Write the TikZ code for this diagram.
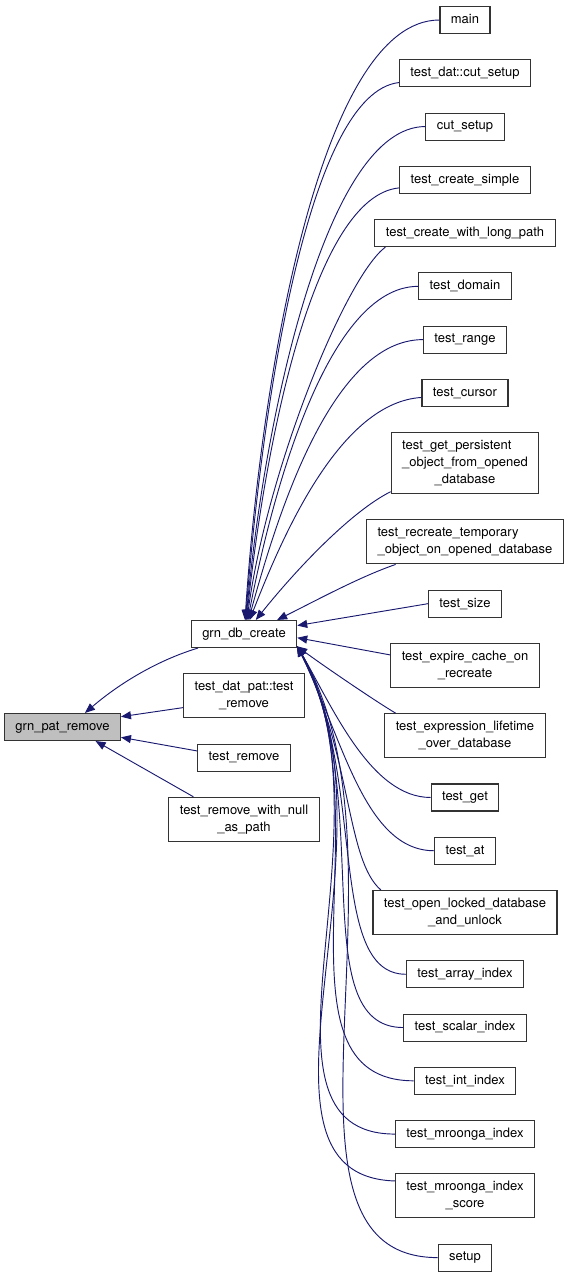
\documentclass[tikz,border=0pt]{standalone}
\usepackage{fontspec}
\setmainfont{TeX Gyre Heros}
\usepackage{tikz}
\usetikzlibrary{arrows.meta,positioning}
\definecolor{edgeblue}{RGB}{25,25,112}
\tikzset{
  >={Triangle[length=7.5pt,width=6pt]},
  fnbox/.style={draw=black!80, line width=0.8pt, fill=white, inner xsep=8.2pt, inner ysep=0pt},
  fn/.style={fnbox, minimum height=20.25pt, text height=7pt, text depth=2pt},
  fntwo/.style={fnbox, align=center, minimum height=33pt},
  fnthree/.style={fnbox, align=center, minimum height=45.75pt},
  call/.style={draw=edgeblue, line width=0.7pt, ->},
}

\begin{document}
\begin{tikzpicture}[
x=0.75pt, y=-0.75pt,
node distance=18.9pt,
every node/.style={font=\fontsize{9.75}{12.75}\selectfont}
]
\useasboundingbox (0,0) rectangle (568,1275);

\node[fn, fill=black!25] (gpr) at (62.5,727) {grn\_pat\_remove};

\node[fn] (dbc) at (244,634) {grn\_db\_create};
\node[fntwo, below=of dbc] (datpat) {test\_dat\_pat::test\\\_remove};
\node[fn, below=of datpat] (remove) {test\_remove};
\node[fntwo, below=of remove] (rmnull) {test\_remove\_with\_null\\\_as\_path};

\node[fn] (main) at (465,20) {main};
\node[fn, below=of main] (datcut) {test\_dat::cut\_setup};
\node[fn, below=of datcut] (cutsetup) {cut\_setup};
\node[fn, below=of cutsetup] (simple) {test\_create\_simple};
\node[fn, below=of simple] (longpath) {test\_create\_with\_long\_path};
\node[fn, below=of longpath] (domain) {test\_domain};
\node[fn, below=of domain] (range) {test\_range};
\node[fn, below=of range] (cursor) {test\_cursor};
\node[fnthree, below=of cursor] (persist) {\rlap{test\_get\_persistent}\phantom{\_object\_from\_opened}\\\_object\_from\_opened\\\_database};
\node[fntwo, below=of persist] (recreate) {\rlap{test\_recreate\_temporary}\phantom{\_object\_on\_opened\_database}\\\_object\_on\_opened\_database};
\node[fn, below=of recreate] (size) {test\_size};
\node[fntwo, below=of size] (expire) {test\_expire\_cache\_on\\\_recreate};
\node[fntwo, below=of expire] (lifetime) {test\_expression\_lifetime\\\_over\_database};
\node[fn, below=of lifetime] (get) {test\_get};
\node[fn, below=of get] (at) {test\_at};
\node[fntwo, below=of at] (locked) {test\_open\_locked\_database\\\_and\_unlock};
\node[fn, below=of locked] (array) {test\_array\_index};
\node[fn, below=of array] (scalar) {test\_scalar\_index};
\node[fn, below=of scalar] (int) {test\_int\_index};
\node[fn, below=of int] (mroonga) {test\_mroonga\_index};
\node[fntwo, below=of mroonga] (score) {test\_mroonga\_index\\\_score};
\node[fn, below=of score] (setup) {setup};

\draw[call] (dbc.197) .. controls +(-40,12) and +(35,-30) .. (gpr.32);
\draw[call] (datpat.191) -- (gpr.10);
\draw[call] (remove.172) -- (gpr.-10);
\draw[call] (rmnull.156) -- (gpr.-23);

\draw[call] (main.west) .. controls +(-120,0) and +(16,-240) .. (dbc.86);
\draw[call] (datcut.188) .. controls +(-90,10) and +(17,-220) .. (dbc.84);
\draw[call] (cutsetup.west) .. controls +(-100,0) and +(18,-200) .. (dbc.82);
\draw[call] (simple.187) .. controls +(-85,8) and +(19,-180) .. (dbc.80);
\draw[call] (longpath.190) .. controls +(-40,30) and +(20,-150) .. (dbc.78);
\draw[call] (domain.west) .. controls +(-90,0) and +(25,-130) .. (dbc.75);
\draw[call] (range.west) .. controls +(-90,0) and +(30,-110) .. (dbc.72);
\draw[call] (cursor.186) .. controls +(-80,5) and +(35,-90) .. (dbc.68);
\draw[call] (persist.201) .. controls +(-40,20) and +(40,-50) .. (dbc.50);
\draw[call] (recreate.198) .. controls +(-35,12) and +(40,-20) .. (dbc.23);
\draw[call] (size.west) -- (dbc.9);
\draw[call] (expire.172) -- (dbc.-4);
\draw[call] (lifetime.162) .. controls +(-25,-15) and +(20,15) .. (dbc.-13);
\draw[call] (get.west) .. controls +(-60,0) and +(35,60) .. (dbc.-13);
\draw[call] (at.west) .. controls +(-70,0) and +(45,90) .. (dbc.-13);
\draw[call] (locked.165) .. controls +(-35,-30) and +(55,110) .. (dbc.-13);
\draw[call] (array.west) .. controls +(-80,0) and +(70,130) .. (dbc.-13);
\draw[call] (scalar.west) .. controls +(-100,0) and +(80,150) .. (dbc.-13);
\draw[call] (int.west) .. controls +(-150,0) and +(90,160) .. (dbc.-13);
\draw[call] (mroonga.west) .. controls +(-160,0) and +(100,180) .. (dbc.-13);
\draw[call] (score.168) .. controls +(-170,-5) and +(110,195) .. (dbc.-13);
\draw[call] (setup.west) .. controls +(-188,0) and +(124,214) .. (dbc.-13);
\end{tikzpicture}
\end{document}
